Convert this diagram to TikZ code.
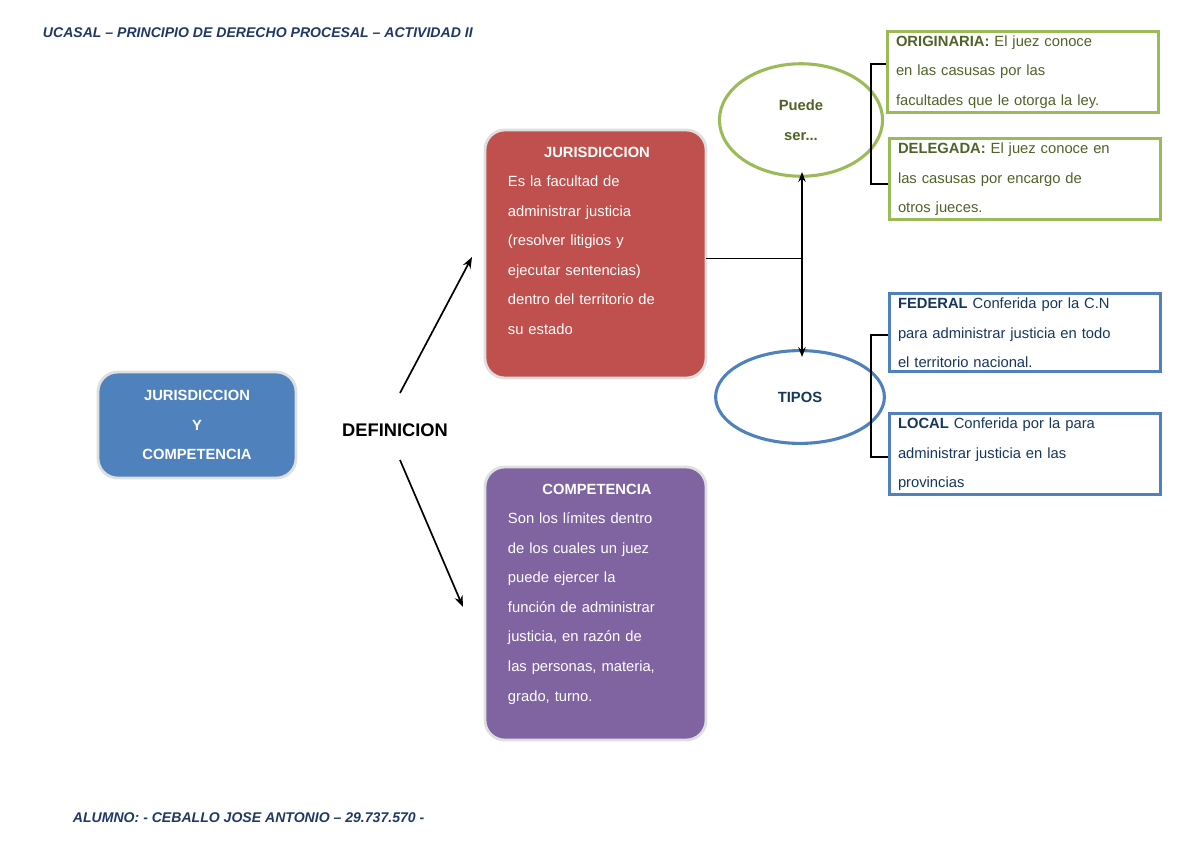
\documentclass[tikz,border=0pt]{standalone}
\usepackage{fontspec}
\setmainfont{Liberation Sans}
\usetikzlibrary{shapes.geometric,arrows.meta}
\definecolor{hdrblue}{HTML}{1F3864}
\definecolor{boxblue}{HTML}{4F81BD}
\definecolor{boxred}{HTML}{C0504D}
\definecolor{boxpurple}{HTML}{8064A2}
\definecolor{boxgreen}{HTML}{9BBB59}
\definecolor{txtgreen}{HTML}{4F6228}
\definecolor{txtblue}{HTML}{17365D}
\newcommand{\jline}[1]{\makebox[\linewidth][s]{#1}\\}
\begin{document}
\begin{tikzpicture}[x=0.025cm,y=-0.025cm,
    txt/.style={font=\fontsize{10.5}{21}\selectfont},
    roundbox/.style={rounded corners=14pt,draw=gray!25,line width=2pt,inner sep=0pt},
    defbox/.style={txt,text=white,align=left,text width=4.45cm,anchor=north west},
    outbox/.style={draw,line width=2.2pt,txt,align=left,anchor=north west,inner xsep=6pt,inner ysep=3pt},
    oval/.style={ellipse,draw,line width=2.2pt,txt,font=\fontsize{10.5}{21}\selectfont\bfseries,align=center}]
  \useasboundingbox (0,0) rectangle (1200,849);
  \node[anchor=west,text=hdrblue,font=\fontsize{10}{12}\selectfont\bfseries\itshape] (head) at (38,33)
    {UCASAL -- PRINCIPIO DE DERECHO PROCESAL -- ACTIVIDAD II};
  \node[anchor=west,text=hdrblue,font=\fontsize{10}{12}\selectfont\bfseries\itshape] (foot) at (68,818)
    {ALUMNO: - CEBALLO JOSE ANTONIO -- 29.737.570 -};

  % caja principal
  \draw[roundbox,fill=boxblue] (98,372) rectangle (296,478);
  \node[txt,text=white,font=\fontsize{10.5}{21}\selectfont\bfseries,align=center] (main) at (197,425)
    {JURISDICCION\\Y\\COMPETENCIA};
  \node[font=\fontsize{13}{15}\selectfont\bfseries] (def) at (395,430) {DEFINICION};

  % definiciones
  \draw[roundbox,fill=boxred] (485,130) rectangle (706,378);
  \node[defbox] (jur) at (503,142) {\centering\textbf{JURISDICCION}\par
    \jline{Es la facultad de}\jline{administrar justicia}\jline{(resolver litigios y}\jline{ejecutar sentencias)}\jline{dentro del territorio de}su estado};
  \draw[roundbox,fill=boxpurple] (485,467) rectangle (706,740);
  \node[defbox] (comp) at (503,479) {\centering\textbf{COMPETENCIA}\par
    \jline{Son los límites dentro}\jline{de los cuales un juez}\jline{puede ejercer la}\jline{función de administrar}\jline{justicia, en razón de}\jline{las personas, materia,}grado, turno.};

  \coordinate (a1) at (400,393);
  \coordinate (a2) at (472,257);
  \coordinate (b1) at (400,460);
  \coordinate (b2) at (463,607);
  \draw[-{Stealth[length=8pt]},line width=1.2pt] (a1) -- (a2);
  \draw[-{Stealth[length=8pt]},line width=1.2pt] (b1) -- (b2);

  % ovalos
  \node[oval,draw=boxgreen,text=txtgreen,minimum width=116,minimum height=80] (puede) at (801,120) {Puede\\ser...};
  \node[oval,draw=boxblue,text=txtblue,minimum width=120,minimum height=66] (tipos) at (800,397) {TIPOS};
  \coordinate (j) at (706,258);
  \coordinate (k) at (802,258);
  \coordinate (up) at (802,172);
  \coordinate (dn) at (802,357);
  \draw (j) -- (k);
  \draw[{Stealth[length=7pt]}-{Stealth[length=7pt]},line width=1.2pt] (up) -- (dn);

  % clases
  \node[outbox,draw=boxgreen,text=txtgreen,text width=6.35cm] (orig) at (886,30)
    {\textbf{ORIGINARIA:} El juez conoce\\en las casusas por las\\facultades que le otorga la ley.};
  \node[outbox,draw=boxgreen,text=txtgreen,text width=6.35cm] (deleg) at (888,137)
    {\textbf{DELEGADA:} El juez conoce en\\las casusas por encargo de\\otros jueces.};
  \node[outbox,draw=boxblue,text=txtblue,text width=6.35cm] (fed) at (888,292)
    {\textbf{FEDERAL} Conferida por la C.N\\para administrar justicia en todo\\el territorio nacional.};
  \node[outbox,draw=boxblue,text=txtblue,text width=6.35cm] (loc) at (888,412)
    {\textbf{LOCAL} Conferida por la para\\administrar justicia en las\\provincias};

  \draw[line width=1.2pt] (orig.west|-0,64) -| (871,124) |- (deleg.west|-0,184);
  \draw[line width=1.2pt] (fed.west|-0,335) -| (871,396) |- (loc.west|-0,457);
\end{tikzpicture}
\end{document}
